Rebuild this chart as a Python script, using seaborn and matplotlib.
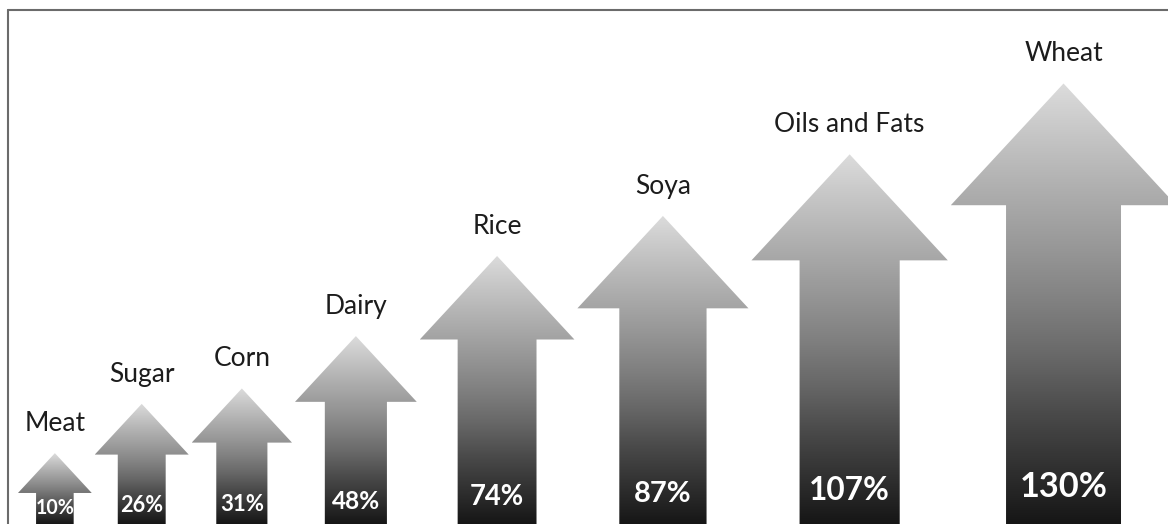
import numpy as np
import matplotlib
matplotlib.use("Agg")
import matplotlib.pyplot as plt
from matplotlib.patches import Polygon
from matplotlib.lines import Line2D
import seaborn as sns

# Projected price increase by commodity
categories = ["Meat", "Sugar", "Corn", "Dairy", "Rice", "Soya", "Oils and Fats", "Wheat"]
increase_pct = [10, 26, 31, 48, 74, 87, 107, 130]
pct_labels = ["10%", "26%", "31%", "48%", "74%", "87%", "107%", "130%"]

sns.set_theme(style="white")
plt.rcParams["font.family"] = ["Lato", "DejaVu Sans"]

W, H, DPI = 11.68, 5.24, 100
fig = plt.figure(figsize=(W, H), dpi=DPI)
fig.patch.set_facecolor("white")
ax = fig.add_axes([0, 0, 1, 1])
ax.set_facecolor("white")

# value axis: arrows rise from below the frame up to their value
y_min, y_max = -13.0, 157.1
ppu = H * DPI / (y_max - y_min)          # pixels per value unit
x_max = W * DPI / ppu                     # same unit on x for true arrow shapes

# vertical light-to-dark shading for every arrow (bottom = 0, tip = 1)
cmap = sns.blend_palette(["#161616", "#303030", "#4a4a4a", "#676767", "#808080",
                          "#979797", "#adadad", "#c4c4c4", "#dcdcdc"], as_cmap=True)
ramp = np.linspace(0, 1, 256).reshape(-1, 1)


def head_width(v):
    # arrow head grows with the value (expressed in pixels, converted to units)
    return (61.1 + 1.264 * v) / ppu


widths = [head_width(v) for v in increase_pct]
gap = 3.0 / ppu
left_margin = 18.0 / ppu
centers = []
for i, w in enumerate(widths):
    if i == 0:
        centers.append(left_margin + w / 2)
    else:
        centers.append(centers[-1] + (widths[i - 1] + w) / 2 + gap)

for c, v, w, cat, lab in zip(centers, increase_pct, widths, categories, pct_labels):
    head_h = 0.54 * w
    half_shaft = 0.51 * w / 2
    base = y_min - 2
    neck = v - head_h
    verts = [(c - half_shaft, base), (c - half_shaft, neck), (c - w / 2, neck),
             (c, v), (c + w / 2, neck), (c + half_shaft, neck), (c + half_shaft, base)]
    poly = Polygon(verts, closed=True, facecolor="none", edgecolor="none", zorder=2)
    ax.add_patch(poly)
    im = ax.imshow(ramp, cmap=cmap, extent=(c - w / 2, c + w / 2, y_min, v),
                   origin="lower", aspect="auto", interpolation="bilinear", zorder=2)
    im.set_clip_path(poly)

    # category name above the tip
    ax.text(c, v + 22 / ppu, cat, ha="center", va="baseline", fontsize=19,
            color="#1c1c1c", zorder=3)
    # percentage inside the shaft
    ax.text(c, y_min + (14 + 0.18 * v) / ppu, lab, ha="center", va="center",
            fontsize=13.3 + 0.088 * v, fontweight="bold", color="white", zorder=4)

ax.set_xlim(0, x_max)
ax.set_ylim(y_min, y_max)
ax.axis("off")

# thin grey frame along top and left edges
frame_kw = dict(color="#6b6b6b", linewidth=1.5, transform=fig.transFigure, zorder=10)
top_y = 1 - 10 / 524
left_x = 8 / 1168
fig.add_artist(Line2D([left_x, 1], [top_y, top_y], **frame_kw))
fig.add_artist(Line2D([left_x, left_x], [0, top_y], **frame_kw))

fig.savefig("out.png", dpi=DPI, facecolor="white")
